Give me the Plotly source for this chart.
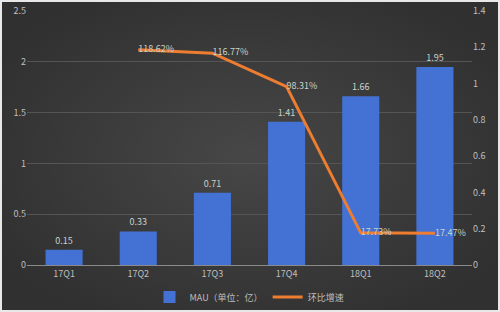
import base64
import plotly.graph_objects as go

categories = ["17Q1", "17Q2", "17Q3", "17Q4", "18Q1", "18Q2"]
mau = [0.15, 0.33, 0.71, 1.41, 1.66, 1.95]
growth_cats = ["17Q2", "17Q3", "17Q4", "18Q1", "18Q2"]
growth = [1.1862, 1.1677, 0.9831, 0.1773, 0.1747]
growth_labels = ["118.62%", "116.77%", "98.31%", "17.73%", "17.47%"]
mau_labels = ["0.15", "0.33", "0.71", "1.41", "1.66", "1.95"]

txt = "#c9d3c9"
fig = go.Figure()
fig.add_trace(go.Bar(
    x=categories, y=mau, name="MAU（单位：亿）",
    marker=dict(color="#4472d4", line=dict(width=0)),
    text=mau_labels, textposition="outside",
    textfont=dict(color=txt, size=9, family="Noto Sans CJK SC"),
    cliponaxis=False,
))
fig.add_trace(go.Scatter(
    x=growth_cats, y=growth, name="环比增速", yaxis="y2",
    mode="lines+text", line=dict(color="#ed7d31", width=3),
    text=growth_labels, textposition="middle right",
    textfont=dict(color=txt, size=9, family="Noto Sans CJK SC"),
    cliponaxis=False,
))

W, H = 500, 312
ml, mr, mt, mb = 27, 28, 11, 47
pw, ph = W - ml - mr, H - mt - mb

svg = (
    f'<svg xmlns="http://www.w3.org/2000/svg" width="{W}" height="{H}">'
    '<defs><radialGradient id="g" cx="50%" cy="50%" r="60%">'
    '<stop offset="0" stop-color="#474747"/><stop offset="1" stop-color="#303030"/>'
    '</radialGradient></defs>'
    f'<rect width="{W}" height="{H}" fill="url(#g)"/></svg>'
)
bg = "data:image/svg+xml;base64," + base64.b64encode(svg.encode()).decode()

fig.update_layout(
    width=W, height=H,
    margin=dict(l=ml, r=mr, t=mt, b=mb, autoexpand=False),
    paper_bgcolor="#393939", plot_bgcolor="rgba(0,0,0,0)",
    font=dict(family="Noto Sans CJK SC", size=9, color="#bfbfbf"),
    bargap=0.5,
    showlegend=True,
    legend=dict(orientation="h", x=0.5, xanchor="center",
                y=-(297 - (H - mb)) / ph, yanchor="middle",
                font=dict(size=9, color="#bfbfbf"), itemwidth=30,
                bgcolor="rgba(0,0,0,0)"),
    xaxis=dict(showgrid=False, showline=True, linecolor="#8a8a8a", linewidth=1,
               ticks="", tickfont=dict(size=9, color="#bfbfbf")),
    yaxis=dict(range=[0, 2.5], dtick=0.5, showgrid=True, gridcolor="#555555",
               zeroline=False, ticks="", tickfont=dict(size=9, color="#bfbfbf")),
    yaxis2=dict(range=[0, 1.4], dtick=0.2, overlaying="y", side="right",
                showgrid=False, zeroline=False, ticks="",
                tickfont=dict(size=9, color="#bfbfbf")),
    images=[dict(source=bg, xref="paper", yref="paper",
                 x=-ml / pw, y=1 + mt / ph, sizex=W / pw, sizey=H / ph,
                 xanchor="left", yanchor="top", sizing="stretch", layer="below")],
)
# thin white frame around the picture
fig.add_shape(type="rect", xref="paper", yref="paper",
              x0=-(ml - 1) / pw, x1=1 + (mr - 1) / pw,
              y0=-(mb - 1) / ph, y1=1 + (mt - 1) / ph,
              line=dict(color="#e8e8e8", width=2), layer="above")
fig.write_html("out.html")
